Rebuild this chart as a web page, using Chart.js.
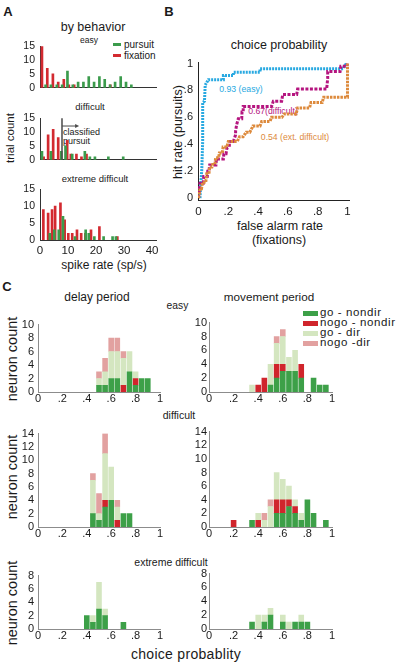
<!DOCTYPE html>
<html>
<head>
<meta charset="utf-8">
<script src="https://cdn.jsdelivr.net/npm/chart.js@4.4.1/dist/chart.umd.min.js"></script>
<style>
  body { margin: 0; background: #fff; }
  #fig { position: relative; width: 400px; height: 664px; overflow: hidden;
         font-family: "Liberation Sans", Arial, Helvetica, sans-serif; color: #1a1a1a; }
  .t { position: absolute; white-space: nowrap; line-height: 1; transform: translate(-50%, -50%); }
  .l { position: absolute; white-space: nowrap; line-height: 1; transform: translateY(-50%); }
  .rot { transform: translate(-50%, -50%) rotate(-90deg); }
  .sw { position: absolute; }
  .bold { font-weight: bold; }
</style>
</head>
<body>
<div id="fig">
  <!-- panel letters -->
  <div class="t bold" style="left:8px;top:11px;font-size:13px">A</div>
  <div class="t bold" style="left:169px;top:11px;font-size:13px">B</div>
  <div class="t bold" style="left:7px;top:286px;font-size:13px">C</div>

  <!-- A -->
  <div class="t" style="left:93px;top:27px;font-size:12.5px">by behavior</div>
  <div class="t" style="left:89px;top:40px;font-size:8.5px">easy</div>
  <div class="sw" style="left:113px;top:43px;width:8px;height:3px;background:#3b9b4c"></div>
  <div class="l" style="left:124px;top:44.5px;font-size:10px">pursuit</div>
  <div class="sw" style="left:113px;top:54px;width:8px;height:3px;background:#d32a30"></div>
  <div class="l" style="left:124px;top:55.5px;font-size:10px">fixation</div>
  <div class="t" style="left:90px;top:107px;font-size:9.5px">difficult</div>
  <div class="l" style="left:63px;top:132px;font-size:9px">classified</div>
  <div class="l" style="left:63px;top:140.5px;font-size:9px">pursuit</div>
  <div class="t" style="left:95px;top:179px;font-size:9.5px">extreme difficult</div>
  <div class="t rot" style="left:11px;top:138px;font-size:11.5px">trial count</div>
  <div class="t" style="left:104px;top:265px;font-size:12px">spike rate (sp/s)</div>

  <!-- B -->
  <div class="t" style="left:279px;top:45px;font-size:12.5px">choice probability</div>
  <div class="t rot" style="left:178px;top:132px;font-size:12.5px">hit rate (pursuits)</div>
  <div class="t" style="left:280px;top:226px;font-size:12.5px">false alarm rate</div>
  <div class="t" style="left:279px;top:240px;font-size:12.5px">(fixations)</div>
  <div class="t" style="left:241px;top:89px;font-size:8.7px;color:#29a9e1">0.93 (easy)</div>
  <div class="t" style="left:273px;top:110.5px;font-size:8.7px;color:#b5157f">0.67(difficult)</div>
  <div class="t" style="left:295px;top:136.5px;font-size:8.7px;color:#dd8a3c">0.54 (ext. difficult)</div>

  <!-- C -->
  <div class="t" style="left:97px;top:297px;font-size:12px">delay period</div>
  <div class="t" style="left:269px;top:297px;font-size:11.7px">movement period</div>
  <div class="t" style="left:177.5px;top:306px;font-size:10.3px">easy</div>
  <div class="sw" style="left:303px;top:311px;width:15px;height:5px;background:#3da048"></div>
  <div class="l" style="left:320px;top:313px;font-size:11.5px;letter-spacing:0.6px">go - nondir</div>
  <div class="sw" style="left:303px;top:321px;width:15px;height:5px;background:#d0252c"></div>
  <div class="l" style="left:320px;top:323px;font-size:11.5px;letter-spacing:0.6px">nogo - nondir</div>
  <div class="sw" style="left:303px;top:331px;width:15px;height:5px;background:#d4e6c0"></div>
  <div class="l" style="left:320px;top:333px;font-size:11.5px;letter-spacing:0.6px">go - dir</div>
  <div class="sw" style="left:303px;top:341px;width:15px;height:5px;background:#e2a1a0"></div>
  <div class="l" style="left:320px;top:343px;font-size:11.5px;letter-spacing:0.6px">nogo -dir</div>
  <div class="t" style="left:179px;top:415px;font-size:10.5px">difficult</div>
  <div class="t" style="left:171px;top:561.5px;font-size:10.5px">extreme difficult</div>
  <div class="t rot" style="left:11.5px;top:359px;font-size:14.5px">neuron count</div>
  <div class="t rot" style="left:11.5px;top:477px;font-size:14.5px">neuron count</div>
  <div class="t rot" style="left:11.5px;top:603px;font-size:14.5px">neuron count</div>
  <div class="t" style="left:186px;top:654px;font-size:14px;letter-spacing:0.3px">choice probablity</div>
</div>

<script>
// ---------------- A: spike-rate histograms (x = sp/s, y = trial count)
const easyFixX = [0.7, 2.6, 4.6, 6.5, 8.5, 10.3, 12.2, 25.1];
const easyFixY = [15, 7, 5, 2, 3, 1, 1, 1];
const easyPurX = [2.0, 3.9, 6.0, 7.9, 9.8, 11.7, 13.6, 15.5, 17.4, 19.3, 21.2, 23.1, 25.0, 26.8, 28.8, 30.7, 32.6];
const easyPurY = [1, 1, 1, 1, 6, 1, 2, 2, 4, 2, 4, 3, 1, 2, 4, 2, 1];

const diffFixX = [1.3, 2.9, 4.7, 6.5, 9.7, 11.0, 13.0, 14.8, 16.6];
const diffFixY = [1, 9, 11, 8, 7, 2, 2, 1, 2];
const diffPurX = [0.7, 3.9, 7.6, 9.1, 11.5, 16.0, 17.8, 19.6, 24.4, 29.7];
const diffPurY = [3, 3, 3, 5, 2, 3, 1, 1, 1, 1];

const extFixX = [1.2, 2.9, 4.3, 5.4, 7.3, 8.8, 10.1, 11.5, 13.2, 14.7, 16.2, 18.2, 21.2, 27.6];
const extFixY = [9, 8, 9, 10, 11, 6, 2, 2, 3, 2, 2, 3, 4, 1];
const extPurX = [3.5, 5.1, 6.7, 8.2, 12.5, 16.3, 17.4, 19.4, 22.7, 25.9, 27.1];
const extPurY = [2, 3, 3, 7, 1, 3, 2, 1, 1, 1, 1];

const threshold = 7.85;     // classification criterion (sp/s)
const arrowEnd = 13.6;
const arrowLevel = 12.2;

const spikeTicks = [0, 10, 20, 30, 40];
const countTicksA = [0, 5, 10, 15];

// ---------------- B: ROC curves (false alarm rate, hit rate)
const easyRocX = [0.01, 0.015, 0.022, 0.028, 0.028, 0.04, 0.045, 0.066, 0.167, 0.167, 0.234, 0.234, 0.413, 0.413, 0.972, 0.983, 1];
const easyRocY = [0, 0.1, 0.21, 0.42, 0.71, 0.72, 0.84, 0.88, 0.88, 0.911, 0.911, 0.935, 0.935, 0.962, 0.962, 0.988, 1];

const diffRocX = [0, 0.01, 0.032, 0.035, 0.059, 0.062, 0.07, 0.075, 0.117, 0.12, 0.167, 0.17, 0.185, 0.19, 0.207, 0.207, 0.234, 0.249, 0.249, 0.256, 0.267, 0.29, 0.292, 0.3, 0.3, 0.49, 0.502, 0.558, 0.565, 0.659, 0.665, 0.86, 0.867, 0.867, 0.95, 0.955, 0.995, 1];
const diffRocY = [0, 0.11, 0.11, 0.16, 0.16, 0.2, 0.2, 0.246, 0.246, 0.29, 0.29, 0.33, 0.33, 0.37, 0.38, 0.42, 0.42, 0.47, 0.5, 0.545, 0.59, 0.59, 0.64, 0.64, 0.68, 0.68, 0.72, 0.72, 0.77, 0.77, 0.81, 0.81, 0.89, 0.94, 0.94, 0.98, 0.98, 1];

const extRocX = [0, 0.005, 0.01, 0.02, 0.025, 0.035, 0.04, 0.05, 0.055, 0.07, 0.075, 0.09, 0.095, 0.11, 0.115, 0.135, 0.14, 0.16, 0.165, 0.19, 0.2, 0.26, 0.275, 0.3, 0.32, 0.345, 0.365, 0.413, 0.424, 0.48, 0.49, 0.56, 0.575, 0.655, 0.665, 0.745, 0.755, 0.83, 0.84, 0.995, 1, 1];
const extRocY = [0, 0.02, 0.07, 0.07, 0.1, 0.1, 0.13, 0.13, 0.18, 0.18, 0.23, 0.23, 0.25, 0.25, 0.3, 0.3, 0.335, 0.335, 0.38, 0.38, 0.42, 0.42, 0.456, 0.456, 0.49, 0.49, 0.535, 0.535, 0.57, 0.57, 0.6, 0.6, 0.625, 0.625, 0.67, 0.67, 0.71, 0.71, 0.75, 0.75, 0.75, 1];

const probTicks = [0, 0.2, 0.4, 0.6, 0.8, 1];

// ---------------- C: choice-probability histograms (stacked neuron counts)
const cpBins = [0.2, 0.25, 0.3, 0.35, 0.4, 0.45, 0.5, 0.55, 0.6, 0.65, 0.7, 0.75, 0.8, 0.85, 0.9, 0.95];
const groupNames = ['go - nondir', 'nogo - nondir', 'go - dir', 'nogo -dir'];

// rows: go-nondir, nogo-nondir, go-dir, nogo-dir
const delayEasy = [
  [0, 0, 0, 0, 0, 0, 1, 1, 2, 2, 0, 3, 1, 2, 2, 0],
  [0, 0, 0, 0, 0, 0, 0, 0, 0, 0, 1, 0, 1, 0, 0, 0],
  [0, 0, 0, 0, 0, 0, 1, 2, 4, 4, 4, 3, 1, 0, 0, 0],
  [0, 0, 0, 0, 0, 0, 1, 2, 2, 2, 1, 0, 0, 0, 0, 0]
];
const moveEasy = [
  [0, 0, 0, 0, 0, 0, 1, 2, 3, 3, 3, 2, 0, 2, 1, 1],
  [0, 0, 0, 0, 1, 2, 0, 2, 1, 0, 0, 2, 0, 0, 0, 0],
  [0, 0, 0, 1, 0, 0, 3, 3, 4, 2, 3, 0, 0, 0, 0, 0],
  [0, 0, 0, 0, 0, 0, 0, 1, 1, 0, 0, 0, 0, 0, 0, 0]
];
const delayDiff = [
  [0, 0, 0, 0, 0, 2, 1, 3, 4, 0, 2, 2, 0, 0, 0, 0],
  [0, 0, 0, 0, 0, 0, 0, 1, 0, 1, 0, 0, 0, 0, 0, 0],
  [0, 0, 0, 0, 0, 5, 1, 7, 5, 2, 0, 0, 0, 0, 0, 0],
  [0, 0, 0, 0, 0, 1, 3, 3, 0, 1, 0, 0, 0, 0, 0, 0]
];
const moveDiff = [
  [0, 0, 0, 1, 0, 0, 0, 2, 2, 3, 2, 1, 4, 2, 0, 1],
  [1, 0, 0, 0, 1, 0, 0, 2, 2, 1, 1, 0, 0, 0, 0, 0],
  [0, 0, 0, 0, 1, 1, 3, 4, 3, 2, 1, 1, 0, 0, 0, 0],
  [0, 0, 0, 0, 0, 1, 1, 0, 0, 0, 0, 0, 0, 0, 0, 0]
];
const delayExt = [
  [0, 0, 0, 0, 2, 1, 3, 2, 0, 0, 1, 0, 0, 0, 0, 0],
  [0, 0, 0, 0, 0, 0, 0, 0, 0, 0, 0, 0, 0, 0, 0, 0],
  [0, 0, 0, 0, 0, 1, 4, 1, 0, 0, 0, 0, 0, 0, 0, 0],
  [0, 0, 0, 0, 0, 0, 0, 0, 0, 0, 0, 0, 0, 0, 0, 0]
];
const moveExt = [
  [0, 0, 0, 1, 0, 1, 2, 0, 1, 0, 1, 1, 1, 0, 0, 0],
  [0, 0, 0, 0, 0, 0, 0, 0, 0, 0, 0, 0, 0, 0, 0, 0],
  [0, 0, 0, 0, 2, 1, 1, 0, 1, 1, 0, 1, 0, 0, 0, 0],
  [0, 0, 0, 0, 0, 0, 0, 0, 0, 0, 0, 0, 0, 0, 0, 0]
];
const countTicksEasy = [0, 2, 4, 6, 8, 10];
const countTicksDiff = [0, 2, 4, 6, 8, 10, 12, 14];
const countTicksExt = [0, 2, 4, 6, 8];

// =========================================
const FONT = '"Liberation Sans", Arial, Helvetica, sans-serif';
const fig = document.getElementById('fig');
const C_PUR = '#3b9b4c', C_FIX = '#d32a30';
const C_GROUP = ['#3da048', '#d0252c', '#d4e6c0', '#e2a1a0'];

const pts = (xs, ys) => xs.map((x, i) => ({ x, y: ys[i] }));
const fmtProb = v => (v === 0 ? '0' : v === 1 ? '1' : '.' + Math.round(v * 10));

// area = chart-area box in page pixels; canvas grows around it for the axes
function makePanel(area, o) {
  const w = area.w + o.yw + o.pr, h = area.h + o.pt + o.xh;
  const cv = document.createElement('canvas');
  cv.width = w; cv.height = h;
  cv.style.cssText = `position:absolute;left:${area.x - o.yw}px;top:${area.y - o.pt}px;width:${w}px;height:${h}px`;
  fig.appendChild(cv);
  return new Chart(cv, {
    type: o.type,
    data: { datasets: o.datasets },
    plugins: o.plugins || [],
    options: {
      responsive: false,
      animation: false,
      events: [],
      layout: { padding: { top: o.pt, right: o.pr, left: 0, bottom: 0 } },
      plugins: { legend: { display: false }, tooltip: { enabled: false } },
      scales: {
        x: {
          type: 'linear', min: o.xmin, max: o.xmax, offset: false,
          grid: { display: false, drawTicks: false },
          border: { display: true, color: o.axisColor, width: 1 },
          ticks: { display: !!o.xTicks, autoSkip: false, maxRotation: 0, padding: o.xPad, color: '#1a1a1a',
                   font: { family: FONT, size: o.xFont }, callback: o.xFmt || (v => v) },
          afterBuildTicks: s => { s.ticks = (o.xTicks || []).map(v => ({ value: v })); },
          afterFit: s => { s.height = o.xh; }
        },
        y: {
          type: 'linear', min: o.ymin, max: o.ymax, stacked: !!o.stacked,
          grid: { display: false, drawTicks: false },
          border: { display: true, color: o.axisColor, width: 1 },
          ticks: { autoSkip: false, padding: o.yPad, color: '#1a1a1a',
                   font: { family: FONT, size: o.yFont }, callback: o.yFmt || (v => v) },
          afterBuildTicks: s => { s.ticks = o.yTicks.map(v => ({ value: v })); },
          afterFit: s => { s.width = o.yw; }
        }
      }
    }
  });
}

// ---- A
function spikeBars(fx, fy, px, py) {
  return [
    { data: pts(px, py), backgroundColor: C_PUR, barThickness: 2, grouped: false, borderWidth: 0 },
    { data: pts(fx, fy), backgroundColor: C_FIX, barThickness: 2, grouped: false, borderWidth: 0 }
  ];
}
const thresholdLine = {
  id: 'threshold',
  afterDatasetsDraw(chart) {
    const { ctx, scales: { x, y } } = chart;
    const px = x.getPixelForValue(threshold);
    const ax = x.getPixelForValue(arrowEnd), ay = y.getPixelForValue(arrowLevel);
    ctx.save();
    ctx.strokeStyle = '#4a4a4a'; ctx.fillStyle = '#4a4a4a';
    ctx.lineWidth = 1.5;
    ctx.beginPath(); ctx.moveTo(px, y.getPixelForValue(15)); ctx.lineTo(px, y.getPixelForValue(0)); ctx.stroke();
    ctx.lineWidth = 1;
    ctx.beginPath(); ctx.moveTo(px, ay); ctx.lineTo(ax - 2, ay); ctx.stroke();
    ctx.beginPath(); ctx.moveTo(ax + 1, ay); ctx.lineTo(ax - 3, ay - 2); ctx.lineTo(ax - 3, ay + 2); ctx.closePath(); ctx.fill();
    ctx.restore();
  }
};
const aBase = { type: 'bar', xmin: 0, xmax: 41.4, ymin: 0, ymax: 15, yTicks: countTicksA,
  yw: 40, pr: 10, pt: 8, yPad: 5, yFont: 10.5, xFont: 11.5, axisColor: '#333' };

makePanel({ x: 40, y: 43, w: 116, h: 54 }, { ...aBase, xh: 2, xTicks: null,
  datasets: spikeBars(easyFixX, easyFixY, easyPurX, easyPurY) });
makePanel({ x: 40, y: 115, w: 116, h: 54 }, { ...aBase, xh: 2, xTicks: null,
  datasets: spikeBars(diffFixX, diffFixY, diffPurX, diffPurY), plugins: [thresholdLine] });
makePanel({ x: 40, y: 186, w: 116, h: 54 }, { ...aBase, xh: 20, xTicks: spikeTicks, xPad: 4,
  datasets: spikeBars(extFixX, extFixY, extPurX, extPurY) });

// ---- B
function rocLine(xs, ys, color, dash) {
  return { data: pts(xs, ys), showLine: true, borderColor: color, borderWidth: 3, borderDash: dash,
           pointRadius: 0, fill: false, tension: 0 };
}
makePanel({ x: 198, y: 59, w: 151, h: 141 }, {
  type: 'scatter', xmin: -0.0034, xmax: 1.01, ymin: -0.0145, ymax: 1.007,
  xTicks: probTicks, yTicks: probTicks, xFmt: fmtProb, yFmt: fmtProb,
  yw: 40, xh: 22, pt: 8, pr: 10, xPad: 5, yPad: 5, xFont: 11.5, yFont: 11, axisColor: '#222',
  datasets: [
    rocLine(extRocX, extRocY, '#dd8a3c', [2.5, 1]),
    rocLine(diffRocX, diffRocY, '#b5157f', [3, 1.5]),
    rocLine(easyRocX, easyRocY, '#29a9e1', [2, 1])
  ]
});

// ---- C (empty bins are left out so nothing is drawn on the baseline)
function cpStack(rows) {
  return rows.map((row, i) => ({
    label: groupNames[i], data: pts(cpBins, row).filter(p => p.y > 0), backgroundColor: C_GROUP[i],
    barThickness: 5, grouped: false, borderWidth: 0, inflateAmount: 0.3
  }));
}
const cBase = { type: 'bar', xmin: 0, xmax: 1, ymin: 0, stacked: true, xTicks: probTicks, xFmt: fmtProb,
  xh: 16, pt: 8, pr: 8, xPad: 0, xFont: 11, yFont: 11, axisColor: '#8c8c8c' };
const colDelay = { x: 38, w: 122 }, colMove = { x: 209, w: 123 };

makePanel({ ...colDelay, y: 322, h: 70 }, { ...cBase, yw: 38, yPad: 4, ymax: 10, yTicks: countTicksEasy, datasets: cpStack(delayEasy) });
makePanel({ ...colMove, y: 322, h: 70 }, { ...cBase, yw: 30, yPad: 2, ymax: 10, yTicks: countTicksEasy, datasets: cpStack(moveEasy) });
makePanel({ ...colDelay, y: 431, h: 96 }, { ...cBase, yw: 38, yPad: 4, ymax: 14, yTicks: countTicksDiff, datasets: cpStack(delayDiff) });
makePanel({ ...colMove, y: 431, h: 96 }, { ...cBase, yw: 30, yPad: 2, ymax: 14, yTicks: countTicksDiff, datasets: cpStack(moveDiff) });
makePanel({ ...colDelay, y: 573, h: 56 }, { ...cBase, yw: 38, yPad: 4, ymax: 8, yTicks: countTicksExt, datasets: cpStack(delayExt) });
makePanel({ ...colMove, y: 573, h: 56 }, { ...cBase, yw: 30, yPad: 2, ymax: 8, yTicks: countTicksExt, datasets: cpStack(moveExt) });
</script>
</body>
</html>
